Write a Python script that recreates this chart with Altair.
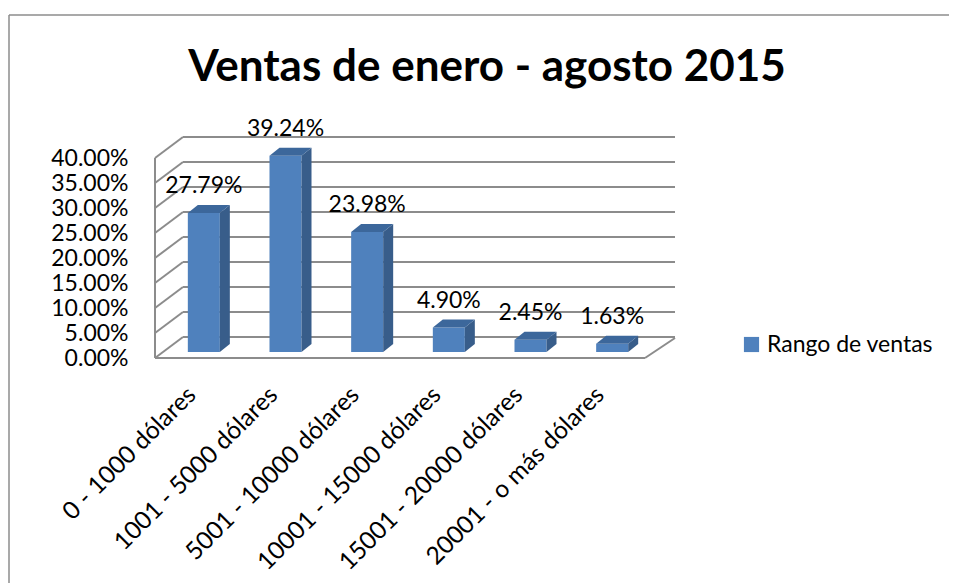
import json
import altair as alt
import pandas as pd

# ---- data ----
categories = ["0 - 1000 dólares", "1001 - 5000 dólares", "5001 - 10000 dólares",
              "10001 - 15000 dólares", "15001 - 20000 dólares", "20001 - o más dólares"]
shares_pct = [27.79, 39.24, 23.98, 4.90, 2.45, 1.63]
series_name = "Rango de ventas"
y_ticks_pct = [0, 5, 10, 15, 20, 25, 30, 35, 40]
title_text = "Ventas de enero - agosto 2015"

# ---- style constants ----
FONT = "Lato"
FRONT = "#4F81BD"
SIDE = "#385D8A"
TOP = "#3C679B"
GRID = "#8C8C8C"
BH = 0.196      # half bar width (x data units)
DX = 0.1224     # bar depth along x (data units)
DY = 0.016      # bar depth along y (data units)
W, H = 490, 200

n = len(categories)
vals = [p / 100 for p in shares_pct]
grid_vals = [t / 100 for t in y_ticks_pct]
ymax = grid_vals[-1]

front = pd.DataFrame({
    "cat": categories,
    "x0": [i + 0.5 - BH for i in range(n)],
    "x1": [i + 0.5 + BH for i in range(n)],
    "xc": [i + 0.5 for i in range(n)],
    "v": vals,
    "zero": [0.0] * n,
    "serie": [series_name] * n,
})

side_rows, top_rows = [], []
for i, (c, v) in enumerate(zip(categories, vals)):
    l, r = i + 0.5 - BH, i + 0.5 + BH
    side_rows += [dict(cat=c, x=r, lo=0.0, hi=v), dict(cat=c, x=r + DX, lo=DY, hi=v + DY)]
    top_rows += [dict(cat=c, x=l, lo=v, hi=v), dict(cat=c, x=l + DX, lo=v, hi=v + DY),
                 dict(cat=c, x=r, lo=v, hi=v + DY), dict(cat=c, x=r + DX, lo=v + DY, hi=v + DY)]
side = pd.DataFrame(side_rows)
top = pd.DataFrame(top_rows)
grid = pd.DataFrame({"g": grid_vals, "gx0": [0.0] * len(grid_vals), "gx1": [float(n)] * len(grid_vals)})
frame = pd.DataFrame({"x0": [0.0], "xn": [float(n)], "y0": [0.0], "ymax": [ymax]})
one = pd.DataFrame({"t": [title_text]})

label_expr = json.dumps(categories) + "[floor(datum.value)]"
xscale = alt.Scale(domain=[0, n], nice=False, zero=False)
yscale = alt.Scale(domain=[0, ymax], nice=False, zero=False)
xaxis = alt.Axis(values=[i + 0.5 for i in range(n)], labelExpr=label_expr, title=None,
                 labelAngle=-45, labelAlign="right", labelBaseline="middle",
                 labelFontSize=24.5, labelFont=FONT, labelColor="black", labelPadding=33,
                 labelOffset=-4,
                 ticks=False, domain=False, grid=False, labelOverlap=False, labelBound=False,
                 labelFlush=False, labelLimit=500)
yaxis = alt.Axis(values=grid_vals, format=".2%", title=None, labelFontSize=23, labelFont=FONT,
                 labelColor="black", labelPadding=27, ticks=False, domain=False, grid=False,
                 labelOverlap=False, labelBound=False, labelFlush=False)


def X(f):
    return alt.X(f, type="quantitative", scale=xscale, axis=xaxis)


def Y(f):
    return alt.Y(f, type="quantitative", scale=yscale, axis=yaxis, stack=None)


rule = dict(color=GRID, strokeWidth=2)
# back wall gridlines
back = alt.Chart(grid).mark_rule(xOffset=28, x2Offset=30, yOffset=-21, **rule).encode(
    x=X("gx0"), x2="gx1", y=Y("g"))
# side wall diagonals
diag = alt.Chart(grid).mark_rule(x2Offset=28, y2Offset=-21, **rule).encode(
    x=X("gx0"), x2="gx0", y=Y("g"), y2="g")
# front-left vertical edge
vert = alt.Chart(frame).mark_rule(**rule).encode(x=X("x0"), y=Y("y0"), y2="ymax")
# floor front edge and right diagonal
floor_front = alt.Chart(frame).mark_rule(**rule).encode(x=X("x0"), x2="xn", y=Y("y0"))
floor_right = alt.Chart(frame).mark_rule(x2Offset=30, y2Offset=-20, **rule).encode(
    x=X("xn"), x2="xn", y=Y("y0"), y2="y0")

bars = alt.Chart(front).mark_bar(xOffset=8, x2Offset=8, yOffset=-6, y2Offset=-6).encode(
    x=X("x0"), x2="x1", y=Y("v"), y2="zero",
    color=alt.Color("serie:N", scale=alt.Scale(range=[FRONT]),
                    legend=alt.Legend(title=None, orient="none", legendX=585, legendY=175,
                                      symbolType="square", symbolSize=230, symbolStrokeWidth=0,
                                      labelFontSize=23, labelFont=FONT, labelColor="black",
                                      labelLimit=400)))
side_face = alt.Chart(side).mark_area(color=SIDE, orient="vertical", xOffset=8, yOffset=-6, y2Offset=-6).encode(
    x=X("x"), y=Y("hi"), y2="lo", detail="cat:N")
top_face = alt.Chart(top).mark_area(color=TOP, orient="vertical", xOffset=8, yOffset=-6, y2Offset=-6).encode(
    x=X("x"), y=Y("hi"), y2="lo", detail="cat:N")
labels = alt.Chart(front).mark_text(dy=-33, dx=8, fontSize=23, font=FONT, color="black", baseline="middle").encode(
    x=X("xc"), y=Y("v"), text=alt.Text("v:Q", format=".2%"))

# chart title (as text, placed in pixel space)
title = alt.Chart(one).mark_text(font=FONT, fontSize=44, fontWeight="bold", color="black",
                                 align="center", baseline="middle").encode(
    x=alt.value(332), y=alt.value(-90), text="t:N")

# outer chart border
border_top = alt.Chart(one).mark_rule(color="#8C8C8C", strokeWidth=1.5).encode(
    x=alt.value(-146), x2=alt.value(830), y=alt.value(-143))
border_left = alt.Chart(one).mark_rule(color="#8C8C8C", strokeWidth=1.5).encode(
    x=alt.value(-146), y=alt.value(-143), y2=alt.value(440))

chart = alt.layer(back, diag, vert, floor_front, floor_right, bars, side_face, top_face, labels,
                  title, border_top, border_left).properties(
    width=W, height=H,
    background="white",
    autosize=alt.AutoSizeParams(type="none"),
    padding={"left": 147, "top": 150, "right": 304, "bottom": 225},
).configure_view(strokeWidth=0, stroke="transparent")

chart.save("out.html", embed_options={"renderer": "svg", "actions": False})
